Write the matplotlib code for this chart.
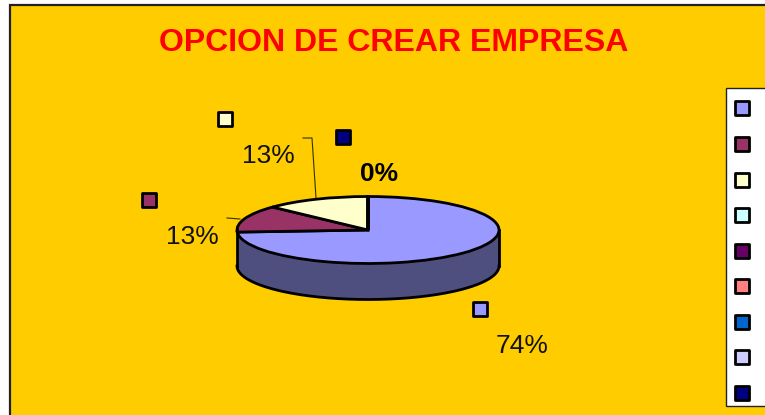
import numpy as np
import matplotlib
matplotlib.use("Agg")
import matplotlib.pyplot as plt
from matplotlib.patches import Rectangle

plt.rcParams['font.family'] = ['Liberation Sans', 'DejaVu Sans']

# nine series in the legend, their names are not shown in the picture
shares = [74, 13, 13, 0, 0, 0, 0, 0, 0]
colors = ['#9999FF', '#993366', '#FFFFCC', '#CCFFFF', '#660066',
          '#FF8080', '#0066CC', '#CCCCFF', '#000080']
title = "OPCION DE CREAR EMPRESA"

W, H = 765, 415
cx, cy, rx, ry, depth = 368, 230, 131, 33.5, 36

fig = plt.figure(figsize=(W/100, H/100), dpi=100, facecolor='white')

# background axes in pixel coords
bg = fig.add_axes([0, 0, 1, 1], zorder=0)
bg.set_xlim(0, W)
bg.set_ylim(H, 0)
bg.axis('off')
bg.add_patch(Rectangle((10.5, 5.5), W, H, facecolor='#FFCC00', edgecolor='#222222', linewidth=1.6))
bg.text(394, 43, title, color='#FF0000', fontsize=23, fontweight='bold', ha='center', va='center')

# legend box, entries have no text
bg.add_patch(Rectangle((726, 88), W, 318, facecolor='white', edgecolor='#222222', linewidth=1))
legend_y = np.linspace(108.5, 393, len(colors))
for c, y in zip(colors, legend_y):
    bg.scatter(742, y, s=100, marker='s', color=c, edgecolor='black', linewidth=2)

# pie, unit circle squashed into the ellipse
ax = fig.add_axes([0, 0, 1, 1], zorder=1)
ax.patch.set_alpha(0)
ax.axis('off')
t = np.linspace(np.pi, 2*np.pi, 200)
ax.fill_between(np.cos(t), np.sin(t), np.sin(t) - depth/ry, color='#4F4F7F', linewidth=0)
ax.plot(np.cos(t), np.sin(t) - depth/ry, color='black', linewidth=2)
ax.plot([-1, -1], [0, -depth/ry], color='black', linewidth=2)
ax.plot([1, 1], [0, -depth/ry], color='black', linewidth=2)
ax.pie(shares, colors=colors, startangle=90, counterclock=False,
       wedgeprops={'edgecolor': 'black', 'linewidth': 2})
ax.set_aspect('auto')
ax.set_xlim(-cx/rx, (W-cx)/rx)
ax.set_ylim(-(H-cy)/ry, cy/ry)

# data labels with their keys and leader lines
bg.text(268, 156, "13%", fontsize=19, ha='center', va='center', color='#111111')
bg.text(192, 237, "13%", fontsize=19, ha='center', va='center', color='#111111')
bg.text(379, 174, "0%", fontsize=19, ha='center', va='center', color='black', fontweight='bold')
bg.text(522, 346, "74%", fontsize=19, ha='center', va='center', color='#111111')
bg.scatter([480, 149, 225, 343], [309, 200, 119, 137], s=100, marker='s',
           color=[colors[0], colors[1], colors[2], colors[8]], edgecolor='black', linewidth=2)
bg.plot([303, 312, 316], [138, 138, 198], color='#333300', linewidth=0.8)
bg.plot([227, 240], [218, 219], color='#333300', linewidth=0.8)

fig.savefig('out.png', dpi=100)
